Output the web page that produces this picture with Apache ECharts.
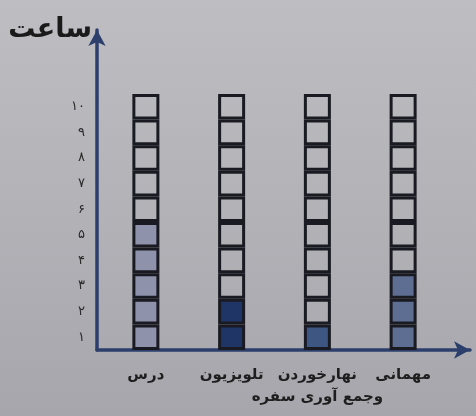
<!DOCTYPE html>
<html><head><meta charset="utf-8">
<script src="https://cdn.jsdelivr.net/npm/echarts@6/dist/echarts.min.js"></script>
<style>html,body{margin:0;padding:0;}#c{width:476px;height:416px;}</style>
</head><body><div id="c"></div>
<script>
const categories = ['درس', 'تلویزیون', 'نهارخوردن\nوجمع آوری سفره', 'مهمانی'];
const hours = [5, 2, 1, 3];
const fillColors = ['#8f92ab', '#1f3566', '#3d5682', '#5e6e92'];
const yTickLabels = ['۱','۲','۳','۴','۵','۶','۷','۸','۹','۱۰'];
const totalCells = 10;
const yTitle = 'ساعت';

const FONT = 'DejaVu Sans';
const AX = '#2c3f6c';
const YMAX = 12.5;

const series = [];
for (let k = 0; k < totalCells; k++) {
  series.push({
    type: 'bar', stack: 'h', xAxisIndex: 0, yAxisIndex: 0, barWidth: 27,
    silent: true,
    data: hours.map((h, i) => ({
      value: 1,
      itemStyle: { color: k < h ? fillColors[i] : 'rgba(0,0,0,0)', borderColor: '#1a1a22', borderWidth: 3 }
    }))
  });
}
series.push({ type: 'line', xAxisIndex: 1, yAxisIndex: 1, data: [] });

const chart = echarts.init(document.getElementById('c'));
chart.setOption({
  animation: false,
  backgroundColor: { type: 'linear', x: 0, y: 0, x2: 0, y2: 1, colorStops: [{ offset: 0, color: '#bebec2' }, { offset: 1, color: '#a6a6ac' }] },
  grid: [
    { left: 103, right: 30, top: 30, bottom: 66 },
    { left: 97, right: 6, top: 30, bottom: 66 }
  ],
  xAxis: [
    { type: 'category', gridIndex: 0, data: categories, axisLine: { show: false }, axisTick: { show: false },
      axisLabel: { color: '#1e1e1e', fontFamily: FONT, fontSize: 15, fontWeight: 'bold', lineHeight: 22, margin: 14, interval: 0 } },
    { type: 'value', gridIndex: 1, min: 0, max: 1, axisLabel: { show: false }, axisTick: { show: false }, splitLine: { show: false },
      axisLine: { show: true, symbol: ['none', 'arrow'], symbolSize: [13, 16], lineStyle: { color: AX, width: 3.5 } } }
  ],
  yAxis: [
    { type: 'value', gridIndex: 0, min: 0, max: YMAX, show: false },
    { type: 'value', gridIndex: 1, min: 0, max: YMAX, interval: 0.5,
      name: yTitle, nameLocation: 'end', nameGap: 0,
      nameTextStyle: { fontFamily: FONT, fontSize: 27, fontWeight: 'bold', color: '#1a1a1a', align: 'right', verticalAlign: 'middle', padding: [0, 5, 0, 0] },
      axisLine: { show: true, symbol: ['none', 'arrow'], symbolSize: [13, 16], lineStyle: { color: AX, width: 3.5 } },
      axisTick: { show: false }, splitLine: { show: false },
      axisLabel: { color: '#2a2a2a', fontFamily: FONT, fontSize: 13, margin: 12,
        formatter: v => { const r = Math.round(v * 2) / 2; if (r % 1 === 0.5 && r < totalCells) return yTickLabels[Math.floor(r)]; return ''; } } }
  ],
  series: series
});
</script></body></html>
